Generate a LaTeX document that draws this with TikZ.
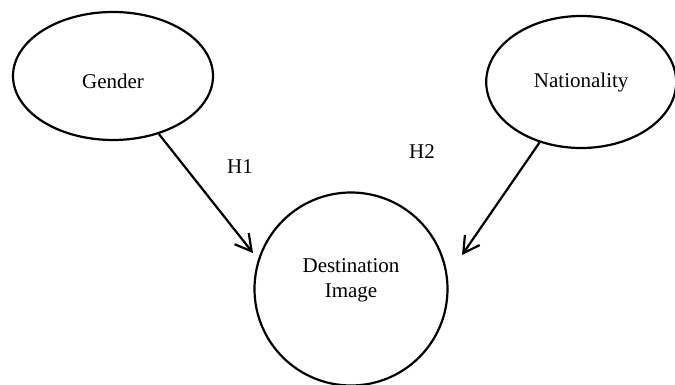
\documentclass[tikz,border=0pt]{standalone}
\usepackage{fontspec}
\setmainfont{Liberation Serif}
\usetikzlibrary{shapes.geometric}
\usetikzlibrary{arrows.meta}
\usetikzlibrary{positioning}

\begin{document}
\begin{tikzpicture}[
x=1pt, y=1pt,
every node/.style={font=\fontsize{21}{25}\selectfont},
oval/.style={ellipse, draw=black, line width=2.2pt, inner sep=0pt},
bigcircle/.style={circle, draw=black, line width=2.2pt, minimum size=193pt, inner sep=0pt},
hyp/.style={black, line width=2.2pt, -{Straight Barb[length=16pt, width=18pt]}},
]
\useasboundingbox (0,0) rectangle (675,385);

\node[oval, minimum width=200pt, minimum height=128pt, label={[yshift=-5pt]center:Gender}] (gender) at (113,309) {};
\node[oval, minimum width=190pt, minimum height=132pt] (nation) [right=271pt of gender, yshift=-6pt] {Nationality};
\node[bigcircle, label={[align=center, yshift=9pt]center:Destination\\Image}] (dest) at (351,96) {};

\coordinate (tipone) at (253,132);
\coordinate (tiptwo) at (462,130);

\draw[hyp] (gender) -- (tipone);
\draw[hyp] (nation) -- (tiptwo);

\node (hone) at (240,218) {H1};
\node (htwo) at (422,233) {H2};
\end{tikzpicture}
\end{document}
